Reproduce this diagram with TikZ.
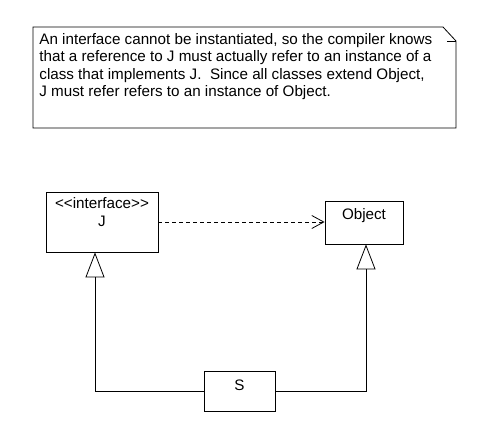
\documentclass[tikz,border=0pt]{standalone}
\usepackage{fontspec}
\setmainfont{Liberation Sans}
\usetikzlibrary{positioning,arrows.meta}

\begin{document}
\begin{tikzpicture}[x=1pt, y=-1pt, line width=0.8pt,
		font=\fontsize{15.2}{17.5}\selectfont,
		classbox/.style={draw, rectangle, inner sep=0pt},
		classname/.style={anchor=north, align=center, inner sep=0pt},
		inherit/.style={-{Triangle[open, length=25pt, width=19pt]}},
		depend/.style={dash pattern=on 4pt off 3pt, -{Straight Barb[length=12pt, width=13pt]}}]
		\useasboundingbox (0,0) rectangle (492,439);

		% Note
		\draw (33,27) -- (443,27) -- (456,41) -- (456,128) -- (33,128) -- cycle;
		\draw (447,41) -- (456,41);
		\node[anchor=north west, align=left, inner sep=0pt] (note) at (39,33)
		{An interface cannot be instantiated, so the compiler knows\\
			that a reference to J must actually refer to an instance of a\\
			class that implements J.\ \ Since all classes extend Object,\\
			J must refer refers to an instance of Object.};

		% Classes
		\node[classbox, minimum width=112pt, minimum height=60pt] (J) at (102,222) {};
		\node[classname, font=\fontsize{15.2}{18}\selectfont] (Jname) at ([yshift=-5.5pt]J.north) {<{}<interface>{}>\\J};
		\node[classbox, minimum width=78pt, minimum height=43pt] (Object) at (364,222.5) {};
		\node[classname] (Objectname) at ([yshift=-7.5pt]Object.north) {Object};
		\node[classbox, minimum width=71pt, minimum height=40pt] (S) at (239.5,391) {};
		\node[classname] (Sname) at ([yshift=-9pt]S.north) {S};

		% Relations
		\draw[depend] (J.east) -- (J.east -| Object.west);
		\draw[inherit] (S.west) -| ([xshift=-7pt]J.south);
		\draw[inherit] (S.east) -| ([xshift=2pt]Object.south);
	\end{tikzpicture}
\end{document}
